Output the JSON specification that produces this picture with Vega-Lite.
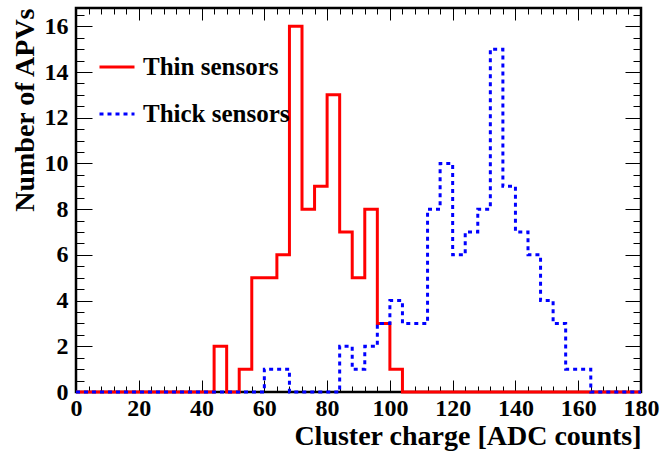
{
  "$schema": "https://vega.github.io/schema/vega-lite/v6.json",
  "width": 565,
  "height": 384,
  "autosize": {"type": "none"},
  "padding": {"left": 76, "top": 8, "right": 21, "bottom": 65},
  "background": "white",
  "config": {
    "view": {"stroke": "black", "strokeWidth": 2.5},
    "font": "Liberation Serif"
  },
  "data": {"values": [
    {"x": 0, "n": 0, "s": "Thin sensors"}, {"x": 4, "n": 0, "s": "Thin sensors"}, {"x": 8, "n": 0, "s": "Thin sensors"}, {"x": 12, "n": 0, "s": "Thin sensors"},
    {"x": 16, "n": 0, "s": "Thin sensors"}, {"x": 20, "n": 0, "s": "Thin sensors"}, {"x": 24, "n": 0, "s": "Thin sensors"}, {"x": 28, "n": 0, "s": "Thin sensors"},
    {"x": 32, "n": 0, "s": "Thin sensors"}, {"x": 36, "n": 0, "s": "Thin sensors"}, {"x": 40, "n": 0, "s": "Thin sensors"}, {"x": 44, "n": 2, "s": "Thin sensors"},
    {"x": 48, "n": 0, "s": "Thin sensors"}, {"x": 52, "n": 1, "s": "Thin sensors"}, {"x": 56, "n": 5, "s": "Thin sensors"}, {"x": 60, "n": 5, "s": "Thin sensors"},
    {"x": 64, "n": 6, "s": "Thin sensors"}, {"x": 68, "n": 16, "s": "Thin sensors"}, {"x": 72, "n": 8, "s": "Thin sensors"}, {"x": 76, "n": 9, "s": "Thin sensors"},
    {"x": 80, "n": 13, "s": "Thin sensors"}, {"x": 84, "n": 7, "s": "Thin sensors"}, {"x": 88, "n": 5, "s": "Thin sensors"}, {"x": 92, "n": 8, "s": "Thin sensors"},
    {"x": 96, "n": 3, "s": "Thin sensors"}, {"x": 100, "n": 1, "s": "Thin sensors"}, {"x": 104, "n": 0, "s": "Thin sensors"}, {"x": 108, "n": 0, "s": "Thin sensors"},
    {"x": 112, "n": 0, "s": "Thin sensors"}, {"x": 116, "n": 0, "s": "Thin sensors"}, {"x": 120, "n": 0, "s": "Thin sensors"}, {"x": 124, "n": 0, "s": "Thin sensors"},
    {"x": 128, "n": 0, "s": "Thin sensors"}, {"x": 132, "n": 0, "s": "Thin sensors"}, {"x": 136, "n": 0, "s": "Thin sensors"}, {"x": 140, "n": 0, "s": "Thin sensors"},
    {"x": 144, "n": 0, "s": "Thin sensors"}, {"x": 148, "n": 0, "s": "Thin sensors"}, {"x": 152, "n": 0, "s": "Thin sensors"}, {"x": 156, "n": 0, "s": "Thin sensors"},
    {"x": 160, "n": 0, "s": "Thin sensors"}, {"x": 164, "n": 0, "s": "Thin sensors"}, {"x": 168, "n": 0, "s": "Thin sensors"}, {"x": 172, "n": 0, "s": "Thin sensors"},
    {"x": 176, "n": 0, "s": "Thin sensors"}, {"x": 180, "n": 0, "s": "Thin sensors"},
    {"x": 0, "n": 0, "s": "Thick sensors"}, {"x": 4, "n": 0, "s": "Thick sensors"}, {"x": 8, "n": 0, "s": "Thick sensors"}, {"x": 12, "n": 0, "s": "Thick sensors"},
    {"x": 16, "n": 0, "s": "Thick sensors"}, {"x": 20, "n": 0, "s": "Thick sensors"}, {"x": 24, "n": 0, "s": "Thick sensors"}, {"x": 28, "n": 0, "s": "Thick sensors"},
    {"x": 32, "n": 0, "s": "Thick sensors"}, {"x": 36, "n": 0, "s": "Thick sensors"}, {"x": 40, "n": 0, "s": "Thick sensors"}, {"x": 44, "n": 0, "s": "Thick sensors"},
    {"x": 48, "n": 0, "s": "Thick sensors"}, {"x": 52, "n": 0, "s": "Thick sensors"}, {"x": 56, "n": 0, "s": "Thick sensors"}, {"x": 60, "n": 1, "s": "Thick sensors"},
    {"x": 64, "n": 1, "s": "Thick sensors"}, {"x": 68, "n": 0, "s": "Thick sensors"}, {"x": 72, "n": 0, "s": "Thick sensors"}, {"x": 76, "n": 0, "s": "Thick sensors"},
    {"x": 80, "n": 0, "s": "Thick sensors"}, {"x": 84, "n": 2, "s": "Thick sensors"}, {"x": 88, "n": 1, "s": "Thick sensors"}, {"x": 92, "n": 2, "s": "Thick sensors"},
    {"x": 96, "n": 3, "s": "Thick sensors"}, {"x": 100, "n": 4, "s": "Thick sensors"}, {"x": 104, "n": 3, "s": "Thick sensors"}, {"x": 108, "n": 3, "s": "Thick sensors"},
    {"x": 112, "n": 8, "s": "Thick sensors"}, {"x": 116, "n": 10, "s": "Thick sensors"}, {"x": 120, "n": 6, "s": "Thick sensors"}, {"x": 124, "n": 7, "s": "Thick sensors"},
    {"x": 128, "n": 8, "s": "Thick sensors"}, {"x": 132, "n": 15, "s": "Thick sensors"}, {"x": 136, "n": 9, "s": "Thick sensors"}, {"x": 140, "n": 7, "s": "Thick sensors"},
    {"x": 144, "n": 6, "s": "Thick sensors"}, {"x": 148, "n": 4, "s": "Thick sensors"}, {"x": 152, "n": 3, "s": "Thick sensors"}, {"x": 156, "n": 1, "s": "Thick sensors"},
    {"x": 160, "n": 1, "s": "Thick sensors"}, {"x": 164, "n": 0, "s": "Thick sensors"}, {"x": 168, "n": 0, "s": "Thick sensors"}, {"x": 172, "n": 0, "s": "Thick sensors"},
    {"x": 176, "n": 0, "s": "Thick sensors"}, {"x": 180, "n": 0, "s": "Thick sensors"}
  ]},
  "resolve": {"axis": {"x": "independent", "y": "independent"}},
  "layer": [
    {
      "transform": [{"filter": "datum.s === 'Thin sensors'"}],
      "mark": {"type": "line", "interpolate": "step-after", "strokeWidth": 3},
      "encoding": {
        "x": {"field": "x", "type": "quantitative", "scale": {"domain": [0, 180], "nice": false, "zero": false},
          "axis": {"orient": "bottom", "values": [0, 20, 40, 60, 80, 100, 120, 140, 160, 180], "ticks": false, "domain": false, "grid": false,
            "labelFont": "Liberation Serif", "labelFontWeight": "bold", "labelFontSize": 24, "labelColor": "black", "labelPadding": 4, "labelFlush": false,
            "title": "Cluster charge [ADC counts]", "titleFont": "Liberation Serif", "titleFontWeight": "bold", "titleFontSize": 28, "titleColor": "black",
            "titleAnchor": "end", "titlePadding": 2}},
        "y": {"field": "n", "type": "quantitative", "scale": {"domain": [0, 16.8], "nice": false},
          "axis": {"orient": "left", "values": [0, 2, 4, 6, 8, 10, 12, 14, 16], "ticks": false, "domain": false, "grid": false,
            "labelFont": "Liberation Serif", "labelFontWeight": "bold", "labelFontSize": 24, "labelColor": "black", "labelPadding": 8, "labelFlush": false,
            "title": "Number of APVs", "titleFont": "Liberation Serif", "titleFontWeight": "bold", "titleFontSize": 28, "titleColor": "black",
            "titleAnchor": "end", "titlePadding": 5}},
        "color": {"field": "s", "type": "nominal", "scale": {"domain": ["Thin sensors", "Thick sensors"], "range": ["#ff0000", "#0000ff"]},
          "legend": {"orient": "none", "legendX": 22, "legendY": 40, "title": null, "symbolType": "stroke", "symbolSize": 1225, "symbolStrokeWidth": 3,
            "labelFont": "Liberation Serif", "labelFontWeight": "bold", "labelFontSize": 25, "labelColor": "black", "labelOffset": 7, "rowPadding": 15, "labelLimit": 400, "padding": 0}},
        "strokeDash": {"field": "s", "type": "nominal", "scale": {"domain": ["Thin sensors", "Thick sensors"], "range": [[1, 0], [4, 4]]}}
      }
    },
    {
      "transform": [{"filter": "datum.s === 'Thick sensors'"}],
      "mark": {"type": "line", "interpolate": "step-after", "strokeWidth": 3},
      "encoding": {
        "x": {"field": "x", "type": "quantitative", "scale": {"domain": [0, 180], "nice": false, "zero": false}, "axis": null},
        "y": {"field": "n", "type": "quantitative", "scale": {"domain": [0, 16.8], "nice": false}, "axis": null},
        "color": {"field": "s", "type": "nominal", "scale": {"domain": ["Thin sensors", "Thick sensors"], "range": ["#ff0000", "#0000ff"]}},
        "strokeDash": {"field": "s", "type": "nominal", "scale": {"domain": ["Thin sensors", "Thick sensors"], "range": [[1, 0], [4, 4]]}}
      }
    },
    {
      "mark": {"type": "point", "opacity": 0},
      "encoding": {
        "x": {"field": "x", "type": "quantitative", "scale": {"domain": [0, 180], "nice": false, "zero": false},
          "axis": {"orient": "bottom", "values": [0, 20, 40, 60, 80, 100, 120, 140, 160, 180], "offset": -12, "tickSize": 12, "tickColor": "black", "tickWidth": 1, "labels": false, "domain": false, "grid": false, "title": null}},
        "y": {"field": "n", "type": "quantitative", "scale": {"domain": [0, 16.8], "nice": false},
          "axis": {"orient": "left", "values": [0, 2, 4, 6, 8, 10, 12, 14, 16], "offset": -16, "tickSize": 16, "tickColor": "black", "tickWidth": 1, "labels": false, "domain": false, "grid": false, "title": null}}
      }
    },
    {
      "mark": {"type": "point", "opacity": 0},
      "encoding": {
        "x": {"field": "x", "type": "quantitative", "scale": {"domain": [0, 180], "nice": false, "zero": false},
          "axis": {"orient": "bottom", "values": [4, 8, 12, 16, 24, 28, 32, 36, 44, 48, 52, 56, 64, 68, 72, 76, 84, 88, 92, 96, 104, 108, 112, 116, 124, 128, 132, 136, 144, 148, 152, 156, 164, 168, 172, 176], "offset": -6, "tickSize": 6, "tickColor": "black", "tickWidth": 1, "labels": false, "domain": false, "grid": false, "title": null}},
        "y": {"field": "n", "type": "quantitative", "scale": {"domain": [0, 16.8], "nice": false},
          "axis": {"orient": "left", "values": [0.5, 1, 1.5, 2.5, 3, 3.5, 4.5, 5, 5.5, 6.5, 7, 7.5, 8.5, 9, 9.5, 10.5, 11, 11.5, 12.5, 13, 13.5, 14.5, 15, 15.5, 16.5], "offset": -8, "tickSize": 8, "tickColor": "black", "tickWidth": 1, "labels": false, "domain": false, "grid": false, "title": null}}
      }
    },
    {
      "mark": {"type": "point", "opacity": 0},
      "encoding": {
        "x": {"field": "x", "type": "quantitative", "scale": {"domain": [0, 180], "nice": false, "zero": false},
          "axis": {"orient": "top", "values": [0, 20, 40, 60, 80, 100, 120, 140, 160, 180], "offset": -12, "tickSize": 12, "tickColor": "black", "tickWidth": 1, "labels": false, "domain": false, "grid": false, "title": null}},
        "y": {"field": "n", "type": "quantitative", "scale": {"domain": [0, 16.8], "nice": false},
          "axis": {"orient": "right", "values": [0, 2, 4, 6, 8, 10, 12, 14, 16], "offset": -16, "tickSize": 16, "tickColor": "black", "tickWidth": 1, "labels": false, "domain": false, "grid": false, "title": null}}
      }
    },
    {
      "mark": {"type": "point", "opacity": 0},
      "encoding": {
        "x": {"field": "x", "type": "quantitative", "scale": {"domain": [0, 180], "nice": false, "zero": false},
          "axis": {"orient": "top", "values": [4, 8, 12, 16, 24, 28, 32, 36, 44, 48, 52, 56, 64, 68, 72, 76, 84, 88, 92, 96, 104, 108, 112, 116, 124, 128, 132, 136, 144, 148, 152, 156, 164, 168, 172, 176], "offset": -6, "tickSize": 6, "tickColor": "black", "tickWidth": 1, "labels": false, "domain": false, "grid": false, "title": null}},
        "y": {"field": "n", "type": "quantitative", "scale": {"domain": [0, 16.8], "nice": false},
          "axis": {"orient": "right", "values": [0.5, 1, 1.5, 2.5, 3, 3.5, 4.5, 5, 5.5, 6.5, 7, 7.5, 8.5, 9, 9.5, 10.5, 11, 11.5, 12.5, 13, 13.5, 14.5, 15, 15.5, 16.5], "offset": -8, "tickSize": 8, "tickColor": "black", "tickWidth": 1, "labels": false, "domain": false, "grid": false, "title": null}}
      }
    }
  ]
}
